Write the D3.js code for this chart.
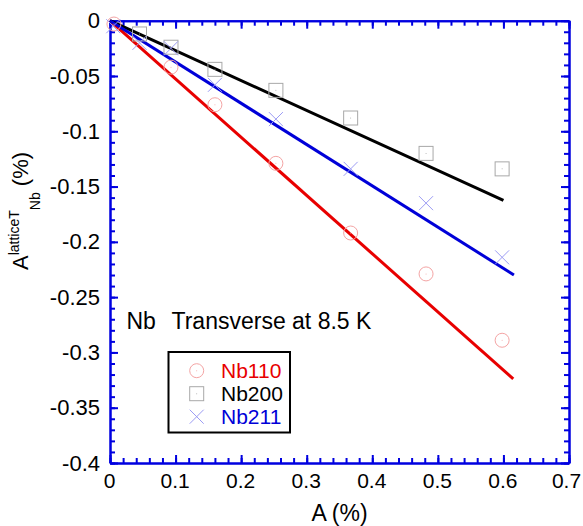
<!DOCTYPE html>
<html>
<head>
<meta charset="utf-8">
<script src="https://cdn.jsdelivr.net/npm/d3@7"></script>
<style>
  body { margin: 0; background: #fff; }
  text { font-family: "Liberation Sans", Arial, sans-serif; }
</style>
</head>
<body>
<div id="chart-area"></div>
<script>
var xTicks = [0, 0.1, 0.2, 0.3, 0.4, 0.5, 0.6, 0.7];
var yTicks = [0, -0.05, -0.1, -0.15, -0.2, -0.25, -0.3, -0.35, -0.4];

var nb110X = [0.006, 0.093, 0.16, 0.253, 0.367, 0.482, 0.598];
var nb110Y = [-0.003, -0.042, -0.076, -0.129, -0.192, -0.229, -0.289];
var nb200X = [0.045, 0.093, 0.16, 0.253, 0.367, 0.482, 0.598];
var nb200Y = [-0.012, -0.024, -0.044, -0.063, -0.088, -0.120, -0.134];
var nb211X = [0.005, 0.045, 0.093, 0.16, 0.253, 0.367, 0.482, 0.598];
var nb211Y = [-0.005, -0.020, -0.025, -0.058, -0.089, -0.134, -0.165, -0.214];

// linear fits through the origin: [x end, y end]
var fit110 = [0.615, -0.324];
var fit200 = [0.600, -0.1624];
var fit211 = [0.616, -0.230];

var seriesNames = ["Nb110", "Nb200", "Nb211"];

var margin = {top: 20.7, right: 14, bottom: 63, left: 110};
var width = 583, height = 526;
var axisColor = "#0000e0";

var svg = d3.select("#chart-area").append("svg")
    .attr("width", width)
    .attr("height", height);

var x = d3.scaleLinear().domain([0, 0.7]).range([margin.left, width - margin.right]);
var y = d3.scaleLinear().domain([0, -0.4]).range([margin.top, height - margin.bottom]);

var xMinor = d3.range(0, 0.7001, 0.02);
var yMinor = d3.range(0, -0.4001, -0.01);
var fmt = function(d) { return d === 0 ? "0" : String(+d.toFixed(2)); };

function styleAxis(g) {
  g.selectAll("path").attr("stroke", axisColor).attr("stroke-width", 2);
  g.selectAll("line").attr("stroke", axisColor).attr("stroke-width", 2);
  g.selectAll("text").attr("fill", "#000").style("font-size", "22px")
    .style("font-family", "'Liberation Sans', Arial, sans-serif");
}

// minor ticks
svg.append("g").attr("transform", "translate(0," + y(-0.4) + ")")
  .call(d3.axisBottom(x).tickValues(xMinor).tickSize(-5).tickSizeOuter(0).tickFormat(""))
  .call(styleAxis);
svg.append("g").attr("transform", "translate(0," + y(0) + ")")
  .call(d3.axisTop(x).tickValues(xMinor).tickSize(-5).tickSizeOuter(0).tickFormat(""))
  .call(styleAxis);
svg.append("g").attr("transform", "translate(" + x(0) + ",0)")
  .call(d3.axisLeft(y).tickValues(yMinor).tickSize(-5).tickSizeOuter(0).tickFormat(""))
  .call(styleAxis);
svg.append("g").attr("transform", "translate(" + x(0.7) + ",0)")
  .call(d3.axisRight(y).tickValues(yMinor).tickSize(-5).tickSizeOuter(0).tickFormat(""))
  .call(styleAxis);

// major ticks
var bottomAxis = svg.append("g").attr("transform", "translate(0," + y(-0.4) + ")")
  .call(d3.axisBottom(x).tickValues(xTicks).tickSize(-8).tickSizeOuter(0).tickPadding(10).tickFormat(fmt))
  .call(styleAxis);
bottomAxis.selectAll("text")
  .style("font-size", "21px")
  .attr("x", function(d) { return d === 0.7 ? -3 : -1; });
svg.append("g").attr("transform", "translate(0," + y(0) + ")")
  .call(d3.axisTop(x).tickValues(xTicks).tickSize(-8).tickSizeOuter(0).tickFormat(""))
  .call(styleAxis);
svg.append("g").attr("transform", "translate(" + x(0) + ",0)")
  .call(d3.axisLeft(y).tickValues(yTicks).tickSize(-8).tickSizeOuter(0).tickPadding(10).tickFormat(fmt))
  .call(styleAxis);
svg.append("g").attr("transform", "translate(" + x(0.7) + ",0)")
  .call(d3.axisRight(y).tickValues(yTicks).tickSize(-8).tickSizeOuter(0).tickFormat(""))
  .call(styleAxis);

// axis titles
svg.append("text")
  .attr("x", (x(0) + x(0.7)) / 2)
  .attr("y", 521)
  .attr("text-anchor", "middle")
  .style("font-size", "23px")
  .text("A (%)");

var yLabel = svg.append("text")
  .attr("transform", "translate(28,270) rotate(-90)")
  .style("font-size", "22px");
yLabel.append("tspan").text("A");
yLabel.append("tspan").attr("dy", -9).style("font-size", "14px").text("latticeT");
yLabel.append("tspan").attr("dy", 21).style("font-size", "14px").text("Nb");
yLabel.append("tspan").attr("dy", -12).text(" (%)");

// fit lines
var fits = [
  {end: fit110, color: "#e80000"},
  {end: fit200, color: "#000000"},
  {end: fit211, color: "#0000d8"}
];
svg.selectAll(".fit")
  .data(fits)
  .enter()
  .append("line")
  .attr("class", "fit")
  .attr("x1", x(0)).attr("y1", y(0))
  .attr("x2", function(d) { return x(d.end[0]); })
  .attr("y2", function(d) { return y(d.end[1]); })
  .attr("stroke", function(d) { return d.color; })
  .attr("stroke-width", 3);

// markers
var circleColor = "#f4a4a4", squareColor = "#a8a8a8", crossColor = "#9c9cf4";
function circleMark(g, cx, cy) {
  g.append("circle").attr("cx", cx).attr("cy", cy).attr("r", 7)
    .attr("fill", "none").attr("stroke", circleColor).attr("stroke-width", 1);
  g.append("circle").attr("cx", cx).attr("cy", cy).attr("r", 0.5).attr("fill", circleColor);
}
function squareMark(g, cx, cy) {
  g.append("rect").attr("x", cx - 7).attr("y", cy - 7).attr("width", 14).attr("height", 14)
    .attr("fill", "none").attr("stroke", squareColor).attr("stroke-width", 1);
  g.append("circle").attr("cx", cx).attr("cy", cy).attr("r", 0.5).attr("fill", squareColor);
}
function crossMark(g, cx, cy) {
  g.append("path")
    .attr("d", "M" + (cx - 7) + "," + (cy - 7) + "L" + (cx + 7) + "," + (cy + 7) +
               "M" + (cx - 7) + "," + (cy + 7) + "L" + (cx + 7) + "," + (cy - 7))
    .attr("stroke", crossColor).attr("stroke-width", 1).attr("fill", "none");
}

var marks = svg.append("g");
nb110X.forEach(function(v, i) { circleMark(marks, x(v), y(nb110Y[i])); });
nb200X.forEach(function(v, i) { squareMark(marks, x(v), y(nb200Y[i])); });
nb211X.forEach(function(v, i) { crossMark(marks, x(v), y(nb211Y[i])); });

// annotation
var note = svg.append("text")
  .attr("y", 329)
  .style("font-size", "23px");
note.append("tspan").attr("x", 126.5).text("Nb");
note.append("tspan").attr("x", 171.5).text("Transverse at 8.5 K");

// legend
var legend = svg.append("g");
legend.append("rect")
  .attr("x", 168.5).attr("y", 352)
  .attr("width", 121.5).attr("height", 80.5)
  .attr("fill", "#fff").attr("stroke", "#000").attr("stroke-width", 2);
var legendColors = ["#e80000", "#000000", "#0000d8"];
var legendMarks = [circleMark, squareMark, crossMark];
seriesNames.forEach(function(name, i) {
  var ly = 370.7 + i * 23;
  legendMarks[i](legend, 196.7, ly);
  legend.append("text")
    .attr("x", 221).attr("y", ly)
    .attr("dy", "0.36em")
    .style("font-size", "21px")
    .attr("fill", legendColors[i])
    .text(name);
});
</script>
</body>
</html>
